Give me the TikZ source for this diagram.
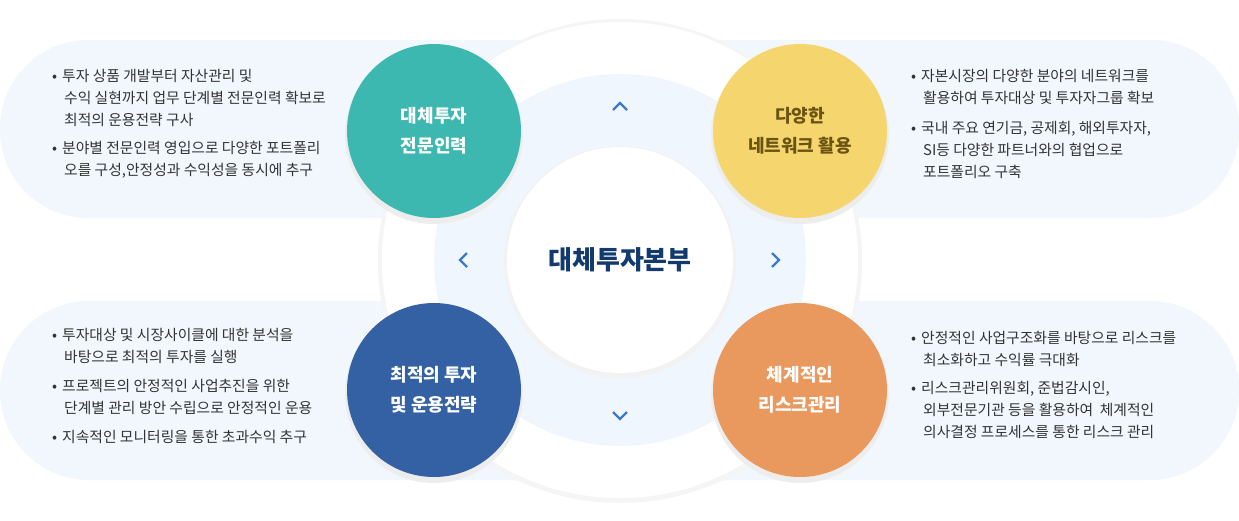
\documentclass[tikz,border=0pt]{standalone}
\usepackage{fontspec}
\setmainfont{Noto Sans CJK KR}
\begin{document}
\begin{tikzpicture}[x=1pt,y=-1pt,
 big/.style={circle,minimum size=174pt,inner sep=0pt,align=center,font=\fontsize{18}{30}\selectfont\bfseries},
 txt/.style={anchor=north west,align=left,font=\fontsize{14.8}{22}\selectfont,text=black!80,inner sep=0pt},
 chev/.style={draw=chevc,line width=2.2pt}]
\definecolor{bandc}{HTML}{F2F7FD}
\definecolor{ringc}{HTML}{F0F6FD}
\definecolor{chevc}{HTML}{3B7BC9}
\definecolor{teal}{HTML}{3DB8B0}
\definecolor{yel}{HTML}{F5D56E}
\definecolor{blu}{HTML}{3461A4}
\definecolor{ora}{HTML}{E9985E}
\definecolor{navyt}{HTML}{123A6E}
\definecolor{brownt}{HTML}{6B5312}
\useasboundingbox (0,0) rectangle (1239,520);
\fill[white] (0,0) rectangle (1239,520);
% bands
\fill[bandc,rounded corners=88pt] (0,40) rectangle (700,218);
\fill[bandc,rounded corners=88pt] (540,40) rectangle (1239,218);
\fill[bandc,rounded corners=89pt] (0,301) rectangle (700,480);
\fill[bandc,rounded corners=89pt] (540,301) rectangle (1239,480);
% rings
\fill[black!4] (620,261) circle (242);
\node[circle,fill=white,minimum size=476pt] (outer) at (620,260) {};
\node[circle,fill=ringc,minimum size=372pt] (ring) at (620,260) {};
\fill[black!5] (620,262) circle (116);
\node[circle,fill=white,minimum size=226pt,font=\fontsize{26}{30}\selectfont\bfseries,text=navyt] (center) at (620,260) {대체투자본부};
% chevrons
\draw[chev] (613,110) -- (620,103) -- (627,110);
\draw[chev] (613,412) -- (620,419) -- (627,412);
\draw[chev] (467,253) -- (460,260) -- (467,267);
\draw[chev] (772,253) -- (779,260) -- (772,267);
% circles
\foreach \p in {(434,132),(800,132),(434,391),(800,391)} \fill[black!7] \p ++(0,3) circle (89);
\node[big,fill=teal,text=white] (c1) at (434,131) {대체투자\\전문인력};
\node[big,fill=yel,text=brownt] (c2) at (800,131) {다양한\\네트워크 활용};
\node[big,fill=blu,text=white] (c3) at (434,390) {최적의 투자\\및 운용전략};
\node[big,fill=ora,text=white] (c4) at (800,390) {체계적인\\리스크관리};
% texts
\node[txt] (t1) at (52,69) {\textbullet\hspace{5pt}투자 상품 개발부터 자산관리 및\\\hspace{12pt}수익 실현까지 업무 단계별 전문인력 확보로\\\hspace{12pt}최적의 운용전략 구사\\[6pt]\textbullet\hspace{5pt}분야별 전문인력 영입으로 다양한 포트폴리\\\hspace{12pt}오를 구성,안정성과 수익성을 동시에 추구};
\node[txt] (t2) at (911,69) {\textbullet\hspace{5pt}자본시장의 다양한 분야의 네트워크를\\\hspace{12pt}활용하여 투자대상 및 투자자그룹 확보\\[8pt]\textbullet\hspace{5pt}국내 주요 연기금, 공제회, 해외투자자,\\\hspace{12pt}SI등 다양한 파트너와의 협업으로\\\hspace{12pt}포트폴리오 구축};
\node[txt] (t3) at (52,328) {\textbullet\hspace{5pt}투자대상 및 시장사이클에 대한 분석을\\\hspace{12pt}바탕으로 최적의 투자를 실행\\[7pt]\textbullet\hspace{5pt}프로젝트의 안정적인 사업추진을 위한\\\hspace{12pt}단계별 관리 방안 수립으로 안정적인 운용\\[7pt]\textbullet\hspace{5pt}지속적인 모니터링을 통한 초과수익 추구};
\node[txt] (t4) at (911,331) {\textbullet\hspace{5pt}안정적인 사업구조화를 바탕으로 리스크를\\\hspace{12pt}최소화하고 수익률 극대화\\[6pt]\textbullet\hspace{5pt}리스크관리위원회, 준법감시인,\\\hspace{12pt}외부전문기관 등을 활용하여~ 체계적인\\\hspace{12pt}의사결정 프로세스를 통한 리스크 관리};
\end{tikzpicture}
\end{document}
